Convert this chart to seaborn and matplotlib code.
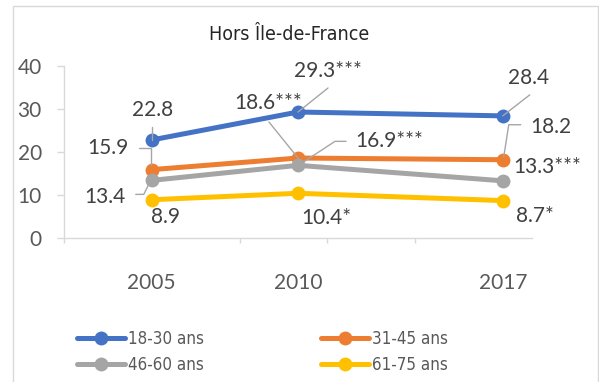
import matplotlib
matplotlib.use("Agg")
import matplotlib.pyplot as plt
from matplotlib import font_manager
from matplotlib.lines import Line2D
from matplotlib.patches import Rectangle
import numpy as np
import pandas as pd
import seaborn as sns

# ---- data -------------------------------------------------------------
years = [2005, 2010, 2017]
groups = ["18-30 ans", "31-45 ans", "46-60 ans", "61-75 ans"]
v_18_30 = [22.8, 29.3, 28.4]
v_31_45 = [15.9, 18.6, 18.2]
v_46_60 = [13.4, 16.9, 13.3]
v_61_75 = [8.9, 10.4, 8.7]
labels_18_30 = ["22.8", "29.3***", "28.4"]
labels_31_45 = ["15.9", "18.6***", "18.2"]
labels_46_60 = ["13.4", "16.9***", "13.3***"]
labels_61_75 = ["8.9", "10.4*", "8.7*"]
title = "Hors Île-de-France"
y_ticks = [0, 10, 20, 30, 40]

series = [v_18_30, v_31_45, v_46_60, v_61_75]
series_labels = [labels_18_30, labels_31_45, labels_46_60, labels_61_75]
colors = ["#4472C4", "#ED7D31", "#A5A5A5", "#FFC000"]

df = pd.DataFrame({
    "year": years * len(groups),
    "value": [v for s in series for v in s],
    "group": [g for g in groups for _ in years],
})

# ---- fonts ------------------------------------------------------------
installed = font_manager.fontManager.ttflist
names = {f.name for f in installed}


def _regular(f):
    return f.weight in (400, "normal", "regular") and f.style == "normal"


narrow_entry = next((f for f in installed
                     if f.name == "Liberation Sans Narrow" and _regular(f)), None)
if narrow_entry is not None:
    title_size, legend_size = 17, 15
else:
    narrow_entry = next((f for f in installed if _regular(f) and (
        "Narrow" in f.name or "Condensed" in f.name
        or "condensed" in str(f.stretch))), None)
    title_size, legend_size = 14, 12.2
if narrow_entry is not None:
    narrow_props = dict(fname=narrow_entry.fname)
else:
    narrow_props = dict(family=["Liberation Sans", "DejaVu Sans"])
    title_size, legend_size = 14, 12.5
num_font = "Lato" if "Lato" in names else "DejaVu Sans"

sns.set_theme(style="white")
plt.rcParams["font.family"] = [num_font, "DejaVu Sans"]

W, H = 599, 382
fig = plt.figure(figsize=(W / 100, H / 100), dpi=100)
ax = fig.add_axes([64 / W, 1 - 238 / H, 468 / W, 172 / H])

# outer chart frame
fig.patches.append(Rectangle((13 / W, -0.02), 585 / W, 1 - 6 / H + 0.02,
                             transform=fig.transFigure, fill=False,
                             edgecolor="#D9D9D9", linewidth=1.0, zorder=0))

sns.lineplot(data=df, x="year", y="value", hue="group", hue_order=groups,
             palette=colors, marker="o", markersize=10, markeredgewidth=0,
             linewidth=3.6, ax=ax, legend=True)

ax.set_xlim(2002, 2018)
ax.set_ylim(0, 40)
ax.set_xlabel("")
ax.set_ylabel("")

for side in ["top", "right"]:
    ax.spines[side].set_visible(False)
for side in ["left", "bottom"]:
    ax.spines[side].set_color("#D9D9D9")
    ax.spines[side].set_linewidth(1.0)

ax.set_yticks(y_ticks)
ax.tick_params(axis="y", which="major", length=5, width=1.0, color="#D9D9D9",
               direction="out", pad=11, labelsize=15, labelcolor="#595959", left=True)
ax.set_xticks(years)
ax.set_xticks(np.arange(2002, 2018, 3), minor=True)
ax.tick_params(axis="x", which="major", length=0, pad=25, labelsize=15,
               labelcolor="#595959")
ax.tick_params(axis="x", which="minor", length=3.6, width=1.0, color="#D9D9D9",
               direction="out", bottom=True)

title_fp = font_manager.FontProperties(size=title_size, **narrow_props)
fig.text(289 / W, 1 - 34 / H, title, ha="center", va="center",
         fontproperties=title_fp, color="#262626")

# ---- data labels with leader lines (offsets in pixels, y up) ----------
label_layout = [
    [(1, 30, "center"), (30, 41, "center"), (26, 38, "center")],
    [(-23, 22, "right"), (-30, 55, "center"), (48, 33, "center")],
    [(-26, -17, "right"), (57, 24, "left"), (11, 14, "left")],
    [(14, -17, "center"), (28, -25, "center"), (32, -15, "center")],
]
leaders = [
    [[(0, 13), (0, 0)], [(30, 24), (0, 0)], [(27, 21), (0, 0)]],
    [[(-13, 22), (-1, 22), (-1, 5)], [(-29, 36), (0, 0)], [(18, 35), (6, 35), (1, 3)]],
    [[(-16, -14), (-8, -14), (-1, 0)], [(48, 24), (37, 24), (5, 3)], None],
    [None, None, None],
]

fig.canvas.draw()
for s, labs, lay, lead in zip(series, series_labels, label_layout, leaders):
    for x, v, lab, (dx, dy, ha), ld in zip(years, s, labs, lay, lead):
        ax.annotate(lab, xy=(x, v), xytext=(dx, dy), textcoords="offset pixels",
                    ha=ha, va="center", fontsize=15, color="#404040",
                    annotation_clip=False)
        if ld is not None:
            px, py = ax.transData.transform((x, v))
            pts = np.array([(px + a, py + b) for a, b in ld])
            fig.lines.append(Line2D(pts[:, 0], pts[:, 1], transform=None,
                                    color="#A6A6A6", linewidth=1.0, zorder=3))

# ---- legend -----------------------------------------------------------
handles, lbls = ax.get_legend_handles_labels()
ax.legend_.remove()
hmap = dict(zip(lbls, handles))
order = ["18-30 ans", "46-60 ans", "31-45 ans", "61-75 ans"]
legend_fp = font_manager.FontProperties(size=legend_size, **narrow_props)
fs_px = legend_size * 100 / 72
fig.legend([hmap[k] for k in order], order, loc="upper left",
           bbox_to_anchor=(77 / W, 1 - 330 / H), ncol=2, frameon=False,
           prop=legend_fp, labelcolor="#595959", handlelength=48 / fs_px,
           handletextpad=3 / fs_px, columnspacing=117 / fs_px,
           labelspacing=(25 - fs_px) / fs_px,
           borderaxespad=0, borderpad=0)

fig.savefig("out.png", dpi=100)
